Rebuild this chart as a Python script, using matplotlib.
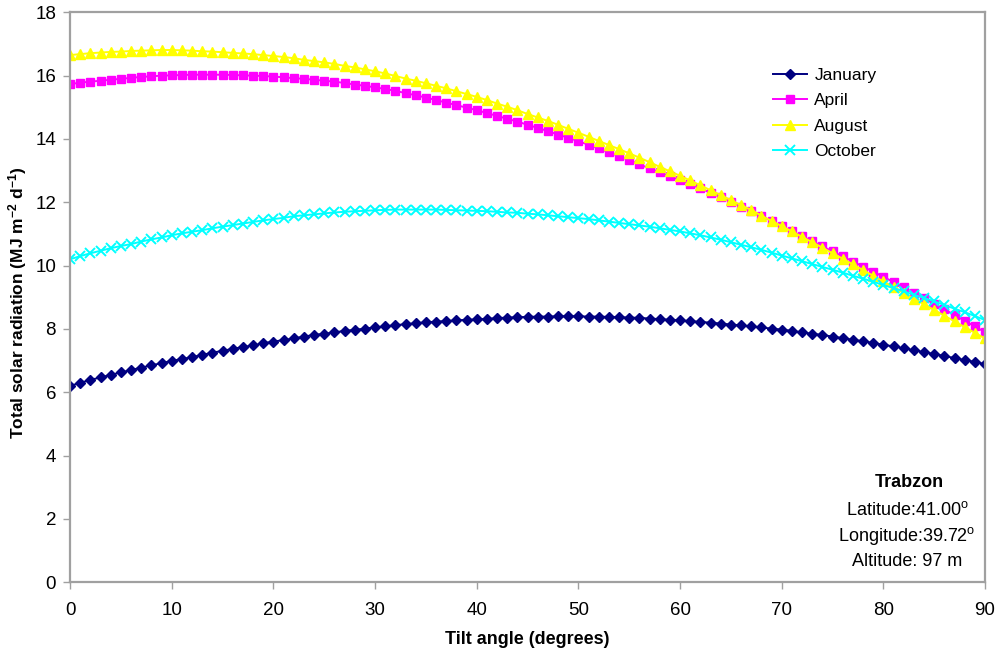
import matplotlib
matplotlib.use('Agg')
import matplotlib.pyplot as plt
import numpy as np

plt.rcParams['font.family'] = ['Liberation Sans', 'DejaVu Sans']
plt.rcParams['mathtext.default'] = 'regular'

# tilt angle, degrees
tilt = list(range(0, 91))

january = [6.20, 6.30, 6.39, 6.47, 6.55, 6.63, 6.70, 6.78, 6.85, 6.92,
           6.99, 7.05, 7.11, 7.18, 7.25, 7.31, 7.37, 7.43, 7.48, 7.55,
           7.60, 7.65, 7.70, 7.76, 7.81, 7.85, 7.89, 7.94, 7.97, 8.01,
           8.05, 8.08, 8.12, 8.15, 8.18, 8.21, 8.23, 8.25, 8.27, 8.29,
           8.30, 8.32, 8.34, 8.36, 8.37, 8.38, 8.39, 8.39, 8.40, 8.40,
           8.40, 8.39, 8.39, 8.38, 8.37, 8.36, 8.35, 8.33, 8.31, 8.29,
           8.27, 8.25, 8.22, 8.20, 8.17, 8.14, 8.11, 8.08, 8.05, 8.01,
           7.98, 7.94, 7.89, 7.85, 7.81, 7.76, 7.71, 7.66, 7.61, 7.56,
           7.50, 7.45, 7.39, 7.33, 7.27, 7.21, 7.15, 7.08, 7.02, 6.96, 6.89]

april = [15.73, 15.78, 15.81, 15.84, 15.87, 15.90, 15.93, 15.96, 15.98, 16.00,
         16.01, 16.02, 16.03, 16.03, 16.03, 16.03, 16.02, 16.01, 16.00, 15.99,
         15.97, 15.95, 15.92, 15.90, 15.87, 15.84, 15.81, 15.77, 15.72, 15.68,
         15.63, 15.58, 15.52, 15.45, 15.38, 15.31, 15.23, 15.15, 15.07, 14.99,
         14.91, 14.82, 14.73, 14.64, 14.55, 14.45, 14.35, 14.25, 14.14, 14.04,
         13.93, 13.82, 13.70, 13.58, 13.46, 13.33, 13.20, 13.07, 12.95, 12.82,
         12.70, 12.57, 12.44, 12.30, 12.16, 12.01, 11.86, 11.72, 11.57, 11.41,
         11.25, 11.09, 10.93, 10.77, 10.61, 10.45, 10.29, 10.13, 9.97, 9.81,
         9.65, 9.48, 9.31, 9.14, 8.97, 8.80, 8.62, 8.44, 8.26, 8.08, 7.90]

august = [16.65, 16.68, 16.71, 16.73, 16.75, 16.76, 16.78, 16.79, 16.80, 16.81,
          16.81, 16.80, 16.79, 16.77, 16.76, 16.74, 16.72, 16.70, 16.68, 16.65,
          16.62, 16.59, 16.55, 16.50, 16.46, 16.42, 16.37, 16.31, 16.26, 16.20,
          16.14, 16.07, 15.99, 15.91, 15.84, 15.76, 15.68, 15.60, 15.51, 15.42,
          15.33, 15.23, 15.12, 15.02, 14.91, 14.79, 14.68, 14.57, 14.45, 14.32,
          14.20, 14.07, 13.94, 13.81, 13.68, 13.55, 13.41, 13.27, 13.12, 12.98,
          12.84, 12.69, 12.54, 12.38, 12.23, 12.07, 11.91, 11.76, 11.58, 11.41,
          11.25, 11.08, 10.91, 10.74, 10.57, 10.39, 10.22, 10.04, 9.86, 9.68,
          9.50, 9.32, 9.14, 8.96, 8.78, 8.60, 8.42, 8.24, 8.06, 7.88, 7.70]

october = [10.20, 10.30, 10.39, 10.47, 10.55, 10.62, 10.68, 10.76, 10.83, 10.89,
           10.96, 11.02, 11.07, 11.12, 11.18, 11.23, 11.28, 11.33, 11.38, 11.43,
           11.47, 11.51, 11.56, 11.59, 11.62, 11.65, 11.68, 11.70, 11.72, 11.73,
           11.75, 11.76, 11.77, 11.77, 11.77, 11.77, 11.77, 11.76, 11.75, 11.74,
           11.73, 11.72, 11.70, 11.68, 11.67, 11.64, 11.62, 11.59, 11.56, 11.53,
           11.50, 11.47, 11.43, 11.39, 11.35, 11.31, 11.27, 11.23, 11.18, 11.13,
           11.08, 11.02, 10.96, 10.89, 10.82, 10.74, 10.66, 10.58, 10.50, 10.41,
           10.32, 10.23, 10.14, 10.05, 9.96, 9.87, 9.78, 9.68, 9.59, 9.49,
           9.39, 9.29, 9.19, 9.08, 8.98, 8.87, 8.76, 8.64, 8.53, 8.41, 8.28]

x_ticks = [0, 10, 20, 30, 40, 50, 60, 70, 80, 90]
y_ticks = [0, 2, 4, 6, 8, 10, 12, 14, 16, 18]

site_lines = ['Latitude:41.00$^{o}$', 'Longitude:39.72$^{o}$', 'Altitude: 97 m']

fig = plt.figure(figsize=(10, 6.56), dpi=100)
ax = fig.add_axes([0.070, 0.1124, 0.915, 0.8688])

ax.plot(tilt, january, color='#000080', marker='D', markersize=5.5, lw=1.4, label='January')
ax.plot(tilt, april, color='#FF00FF', marker='s', markersize=6, lw=1.4, label='April')
ax.plot(tilt, august, color='#FFFF00', marker='^', markersize=7, lw=1.4, label='August')
ax.plot(tilt, october, color='#00FFFF', marker='x', markersize=6.5, mew=1.4, lw=1.4, label='October')

ax.set_xlim(0, 90)
ax.set_ylim(0, 18)
ax.set_xticks(x_ticks)
ax.set_yticks(y_ticks)
for s in ax.spines.values():
    s.set_color('#a0a0a0')
    s.set_linewidth(1.6)
ax.tick_params(axis='both', direction='out', length=5, color='#a0a0a0', width=1)
ax.tick_params(axis='y', labelsize=13.5, pad=5)
ax.tick_params(axis='x', labelsize=13.5, pad=9)

ax.set_xlabel('Tilt angle (degrees)', fontsize=13, fontweight='bold', labelpad=9)
ax.set_ylabel('Total solar radiation (MJ m$^{-2}$ d$^{-1}$)', fontsize=12.5,
              fontweight='bold')
ax.yaxis.set_label_coords(-0.045, 0.49)

ax.legend(loc='upper left', bbox_to_anchor=(0.757, 0.92), bbox_transform=fig.transFigure,
          frameon=False, fontsize=12.5, handlelength=2.0, labelspacing=0.58,
          handletextpad=0.4)

ax.text(0.909, 0.265, 'Trabzon', transform=fig.transFigure, ha='center', va='center',
        fontsize=13, fontweight='bold')
for i, t in enumerate(site_lines):
    ax.text(0.907, 0.222 - i * 0.039, t, transform=fig.transFigure, ha='center',
            va='center', fontsize=13)

fig.savefig('out.png', dpi=100)
